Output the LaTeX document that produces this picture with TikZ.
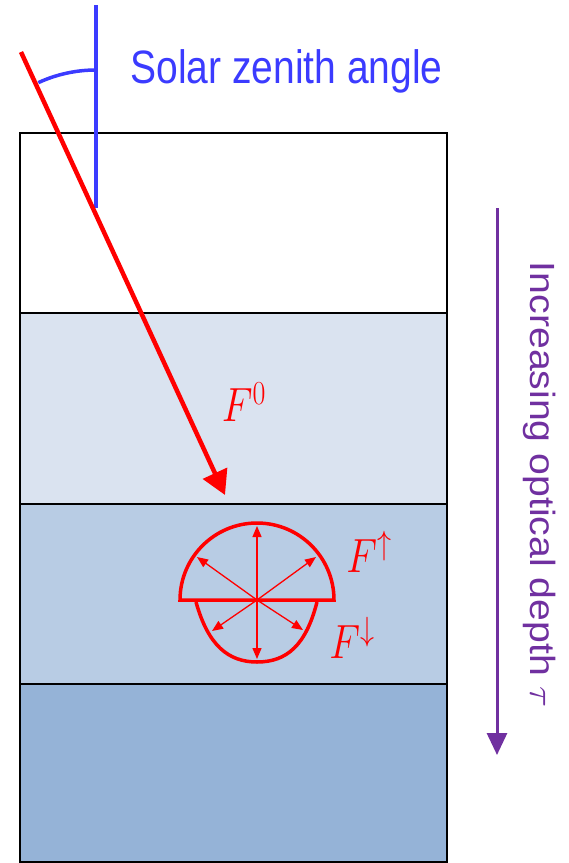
\documentclass[tikz,border=0pt]{standalone}
\usepackage{fix-cm}
\usepackage{fontspec}
\setsansfont{Liberation Sans}
\usetikzlibrary{arrows.meta}
\definecolor{zenblue}{HTML}{3B3BFF}
\definecolor{depthpurple}{HTML}{7030A0}
\definecolor{layerone}{HTML}{DAE3F0}
\definecolor{layertwo}{HTML}{B8CCE4}
\definecolor{layerthree}{HTML}{95B3D7}
\begin{document}
\begin{tikzpicture}[x=1pt,y=-1pt,
  layer/.style={draw=black,line width=1.6pt},
  flux/.style={red,line width=1.3pt,-{Triangle[length=11pt,width=9pt]}},
  saytext/.style={font=\sffamily\fontsize{39}{41}\selectfont},
  fluxlabel/.style={text=red,font=\fontsize{40}{42}\selectfont,yscale=1.2}]
\useasboundingbox (0,0) rectangle (569,863);

\begin{scope}
\filldraw[layer,fill=white] (20,133) rectangle (447,313);
\filldraw[layer,fill=layerone] (20,313) rectangle (447,504);
\filldraw[layer,fill=layertwo] (20,504) rectangle (447,684);
\filldraw[layer,fill=layerthree] (20,684) rectangle (447,862);
\end{scope}

% zenith and direct beam
\coordinate (zenith) at (96,5);
\coordinate (hit) at (96,208);
\coordinate (sun) at (21,52);
\coordinate (beamend) at (225,495);
\draw[zenblue,line width=3.5pt] (zenith) -- (hit);
\draw[zenblue,line width=3.5pt] (96,70) arc[start angle=90,end angle=114.7,radius=138pt];
\node[saytext,text=zenblue,yscale=1.2,anchor=base west] (sza) at (127,83) {Solar zenith angle};
\draw[red,line width=4.5pt,-{Triangle[length=24pt,width=26pt]}] (sun) -- (beamend);
\node[fluxlabel] (fzero) at (244,402) {$F^0$};

\begin{scope}
\coordinate (src) at (257,600);
\draw[red,line width=3.5pt] (180,600) arc[start angle=180,end angle=0,radius=77pt] -- cycle;
\draw[red,line width=3.5pt] (196,602) .. controls (208,645) and (228,662) .. (257,662)
  .. controls (287,662) and (306,645) .. (317,602);
\foreach \dx/\dy in {0/-74,0/59,-60/-43,59/-43,-45/31,46/30} {
  \draw[flux] (src) -- ++(\dx,\dy);
}
\node[fluxlabel] (fup) at (369,552) {$F^\uparrow$};
\node[fluxlabel] (fdown) at (352,638) {$F^\downarrow$};
\end{scope}

% optical depth
\coordinate (dtop) at (497,208);
\coordinate (dbot) at (497,755);
\draw[depthpurple,line width=3pt,-{Triangle[length=22pt,width=20pt]}] (dtop) -- (dbot);
\node[text=depthpurple,font=\sffamily\fontsize{35}{38}\selectfont,rotate=-90,xscale=1.12,anchor=base west]
  (depth) at (530,258) {Increasing optical depth $\tau$};
\end{tikzpicture}
\end{document}
